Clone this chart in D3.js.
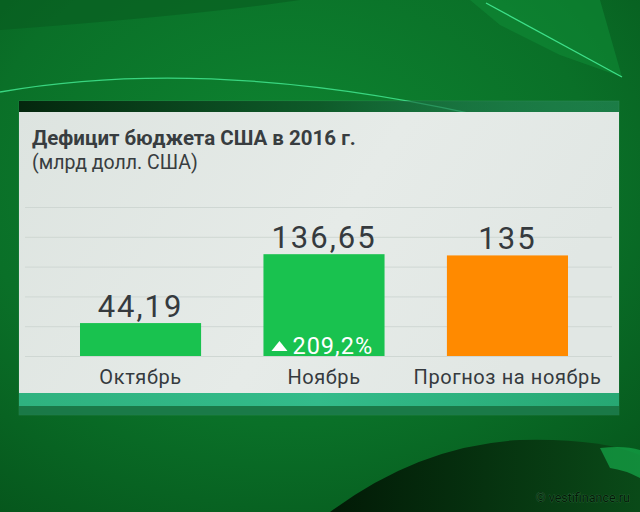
<!DOCTYPE html>
<html><head><meta charset="utf-8">
<script src="https://cdn.jsdelivr.net/npm/d3@7"></script>
<style>html,body{margin:0;padding:0;background:#0b6a26;}svg{display:block;}</style>
</head><body><svg id="c" width="640" height="512"></svg>
<script>
const categories = ["Октябрь", "Ноябрь", "Прогноз на ноябрь"];
const values = [44.19, 136.65, 135];
const valueLabels = ["44,19", "136,65", "135"];
const barColors = ["#19c24f", "#19c24f", "#ff8a00"];
const changeLabel = "209,2%";
const gridTicks = [0, 40, 80, 120, 160, 200];
const title = "Дефицит бюджета США в 2016 г.";
const subtitle = "(млрд долл. США)";
const credit = "© vestifinance.ru";

const svg = d3.select("#c");
const defs = svg.append("defs");

const bg = defs.append("radialGradient").attr("id","bg").attr("cx","0.45").attr("cy","0.35").attr("r","0.8");
bg.append("stop").attr("offset","0").attr("stop-color","#0e8631");
bg.append("stop").attr("offset","0.6").attr("stop-color","#0a7028");
bg.append("stop").attr("offset","1").attr("stop-color","#06561c");
const pg = defs.append("linearGradient").attr("id","pg").attr("x1","0").attr("x2","1").attr("y1","0").attr("y2","0.3");
pg.append("stop").attr("offset","0").attr("stop-color","#dde4e0");
pg.append("stop").attr("offset","0.6").attr("stop-color","#e6ebe8");
pg.append("stop").attr("offset","1").attr("stop-color","#e1e7e4");
const dk = defs.append("linearGradient").attr("id","dk").attr("x1","0").attr("x2","1").attr("y1","0").attr("y2","0");
dk.append("stop").attr("offset","0").attr("stop-color","#021a06");
dk.append("stop").attr("offset","1").attr("stop-color","#0a4a18");
const tb = defs.append("linearGradient").attr("id","tb").attr("x1","0").attr("x2","1");
tb.append("stop").attr("offset","0").attr("stop-color","#2fb27f");
tb.append("stop").attr("offset","0.5").attr("stop-color","#33bb8a");
tb.append("stop").attr("offset","1").attr("stop-color","#27a873");
const sh = defs.append("linearGradient").attr("id","sh").attr("x1","0").attr("x2","1");
sh.append("stop").attr("offset","0").attr("stop-color","#021d08").attr("stop-opacity",0.9);
sh.append("stop").attr("offset","0.5").attr("stop-color","#04300f").attr("stop-opacity",0.5);
sh.append("stop").attr("offset","1").attr("stop-color","#2f8f6a").attr("stop-opacity",0.2);

svg.append("rect").attr("width",640).attr("height",512).attr("fill","url(#bg)");
// decorative background shapes
svg.append("path").attr("d","M470,0 L600,0 L622,77 L560,55 L500,25 Z").attr("fill","#0f8a35").attr("opacity",0.6);
svg.append("path").attr("d","M0,30 L0,0 L300,0 Q200,15 0,30Z").attr("fill","#085c1f").attr("opacity",0.6);
svg.append("path").attr("d","M330,512 Q420,445 520,440 Q600,438 640,455 L640,512 Z").attr("fill","url(#dk)");
svg.append("path").attr("d","M600,448 Q625,445 640,450 L640,478 Q625,470 610,468 Z").attr("fill","#15a84a").attr("opacity",0.7);
svg.append("path").attr("d","M0,92 Q240,50 560,135").attr("fill","none").attr("stroke","#3ee08a").attr("stroke-width",1.3).attr("opacity",0.9);
svg.append("path").attr("d","M486,3 L622,77").attr("fill","none").attr("stroke","#3ee08a").attr("stroke-width",1.3);

// panel
const panel = {x:19, y:101, w:600, top:112, bottom:393};
svg.append("rect").attr("x",panel.x).attr("y",panel.y).attr("width",panel.w).attr("height",314)
  .attr("fill","#2f8f6a").attr("opacity",0.35).attr("stroke","#7cc7b0").attr("stroke-opacity",0.6).attr("stroke-width",0.8);
svg.append("rect").attr("x",panel.x).attr("y",panel.y).attr("width",panel.w).attr("height",panel.top-panel.y).attr("fill","url(#sh)");
svg.append("rect").attr("x",panel.x).attr("y",panel.top).attr("width",panel.w).attr("height",panel.bottom-panel.top).attr("fill","url(#pg)");
svg.append("rect").attr("x",panel.x).attr("y",panel.bottom).attr("width",panel.w).attr("height",13).attr("fill","url(#tb)");
svg.append("rect").attr("x",panel.x).attr("y",406).attr("width",panel.w).attr("height",9).attr("fill","#1b7a4a").attr("opacity",0.85);

// scales
const x = d3.scaleBand().domain(categories).range([80, 568]).paddingInner(0.34).paddingOuter(0);
const y = d3.scaleLinear().domain([0, 200]).range([356, 207]);

// grid
svg.append("g").selectAll("line").data(gridTicks).join("line")
  .attr("x1", 25).attr("x2", 612)
  .attr("y1", d => y(d) + 0.5).attr("y2", d => y(d) + 0.5)
  .attr("stroke", "#cfd7d3").attr("stroke-width", 1);

// title
svg.append("text").attr("x",32).attr("y",145).text(title)
  .attr("font-family","Roboto").attr("font-weight","bold").attr("font-size",20.5).attr("fill","#383d40");
svg.append("text").attr("x",32).attr("y",169).text(subtitle)
  .attr("font-family","Roboto").attr("font-size",19.5).attr("fill","#383d40");

// bars
svg.append("g").selectAll("rect").data(values).join("rect")
  .attr("x", (d,i) => x(categories[i]))
  .attr("y", d => y(d))
  .attr("width", x.bandwidth())
  .attr("height", d => y(0) - y(d))
  .attr("fill", (d,i) => barColors[i]);

// value labels
svg.append("g").selectAll("text").data(values).join("text")
  .attr("x", (d,i) => x(categories[i]) + x.bandwidth()/2)
  .attr("y", d => y(d) - 6)
  .attr("text-anchor","middle")
  .attr("font-family","Roboto").attr("font-size",31).attr("letter-spacing",2)
  .attr("fill","#353a3e")
  .text((d,i) => valueLabels[i]);

// category labels
svg.append("g").selectAll("text").data(categories).join("text")
  .attr("x", d => x(d) + x.bandwidth()/2)
  .attr("y", 384)
  .attr("text-anchor","middle")
  .attr("font-family","Roboto").attr("font-size",20).attr("letter-spacing",0.6)
  .attr("fill","#353a3e")
  .text(d => d);

// change label inside Nov bar
const nx = x(categories[1]);
svg.append("path").attr("d", `M${nx+8},${351} L${nx+24},${351} L${nx+16},${341} Z`).attr("fill","#ffffff");
svg.append("text").attr("x", nx+29).attr("y", 353.5)
  .attr("font-family","Roboto").attr("font-size",23.5).attr("letter-spacing",1)
  .attr("fill","#ffffff").text(changeLabel);

// credit
svg.append("text").attr("x",630).attr("y",502).attr("text-anchor","end")
  .attr("font-family","Roboto").attr("font-size",12.5).attr("fill","#031a07")
  .attr("stroke","#3a7a4a").attr("stroke-width",0.5).attr("paint-order","stroke").text(credit);
</script>
</body></html>
